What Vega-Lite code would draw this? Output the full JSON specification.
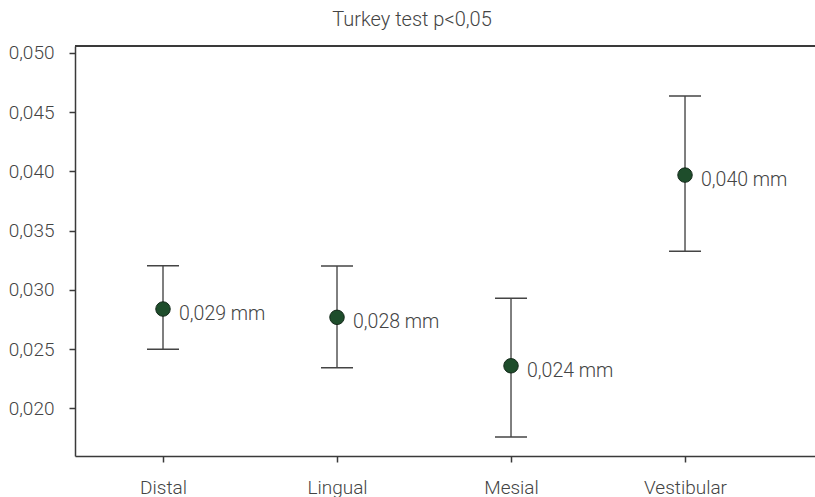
{
  "$schema": "https://vega.github.io/schema/vega-lite/v6.json",
  "width": 740,
  "height": 410,
  "autosize": {"type": "none"},
  "padding": {"left": 75, "top": 46, "right": 0, "bottom": 41},
  "background": "white",
  "title": {"text": "Turkey test p<0,05", "frame": "bounds", "anchor": "middle", "font": "Roboto", "fontSize": 20, "fontWeight": 300, "color": "#444444", "baseline": "alphabetic", "offset": -2},
  "config": {"view": {"stroke": null}, "font": "Roboto"},
  "data": {
    "values": [
      {"site": "Distal", "mean": 0.02838, "lower": 0.02498, "upper": 0.03203, "label": "0,029 mm"},
      {"site": "Lingual", "mean": 0.02768, "lower": 0.02343, "upper": 0.03201, "label": "0,028 mm"},
      {"site": "Mesial", "mean": 0.02359, "lower": 0.01758, "upper": 0.02928, "label": "0,024 mm"},
      {"site": "Vestibular", "mean": 0.03968, "lower": 0.03325, "upper": 0.04635, "label": "0,040 mm"}
    ]
  },
  "layer": [
    {
      "mark": {"type": "rule", "color": "#555555", "strokeWidth": 1.5},
      "encoding": {
        "x": {"field": "site", "type": "nominal", "sort": null,
          "scale": {"type": "point", "padding": 0.6264, "align": 0.4037},
          "axis": {"title": null, "labelAngle": 0, "domainColor": "#3a3a3a", "domainWidth": 1.5, "tickColor": "#3a3a3a", "tickWidth": 1.5, "tickSize": 6, "labelPadding": 16, "labelFont": "Roboto", "labelFontSize": 19, "labelFontWeight": 300, "labelColor": "#444444"}},
        "y": {"field": "lower", "type": "quantitative",
          "scale": {"domain": [0.01598, 0.05057], "nice": false, "zero": false},
          "axis": {"title": null, "grid": false, "values": [0.02, 0.025, 0.03, 0.035, 0.04, 0.045, 0.05], "labelExpr": "replace(format(datum.value, '.3f'), '.', ',')", "domainColor": "#3a3a3a", "domainWidth": 1.5, "tickColor": "#3a3a3a", "tickWidth": 1.5, "tickSize": 6, "labelPadding": 15, "labelFont": "Roboto", "labelFontSize": 19, "labelFontWeight": 300, "labelColor": "#444444"}},
        "y2": {"field": "upper"}
      }
    },
    {
      "mark": {"type": "tick", "orient": "horizontal", "size": 32, "thickness": 1.5, "color": "#444444", "opacity": 1},
      "encoding": {
        "x": {"field": "site", "type": "nominal", "sort": null},
        "y": {"field": "upper", "type": "quantitative"}
      }
    },
    {
      "mark": {"type": "tick", "orient": "horizontal", "size": 32, "thickness": 1.5, "color": "#444444", "opacity": 1},
      "encoding": {
        "x": {"field": "site", "type": "nominal", "sort": null},
        "y": {"field": "lower", "type": "quantitative"}
      }
    },
    {
      "mark": {"type": "point", "filled": true, "size": 210, "fill": "#1e4d2b", "stroke": "#152a1b", "strokeWidth": 1, "opacity": 1},
      "encoding": {
        "x": {"field": "site", "type": "nominal", "sort": null},
        "y": {"field": "mean", "type": "quantitative"}
      }
    },
    {
      "mark": {"type": "text", "align": "left", "baseline": "middle", "dx": 16, "dy": 5, "font": "Roboto", "fontSize": 19.5, "fontWeight": 300, "color": "#444444"},
      "encoding": {
        "x": {"field": "site", "type": "nominal", "sort": null},
        "y": {"field": "mean", "type": "quantitative"},
        "text": {"field": "label"}
      }
    },
    {
      "mark": {"type": "rule", "color": "#3a3a3a", "strokeWidth": 1.5},
      "encoding": {
        "y": {"datum": 0.05057, "type": "quantitative"}
      }
    }
  ]
}
